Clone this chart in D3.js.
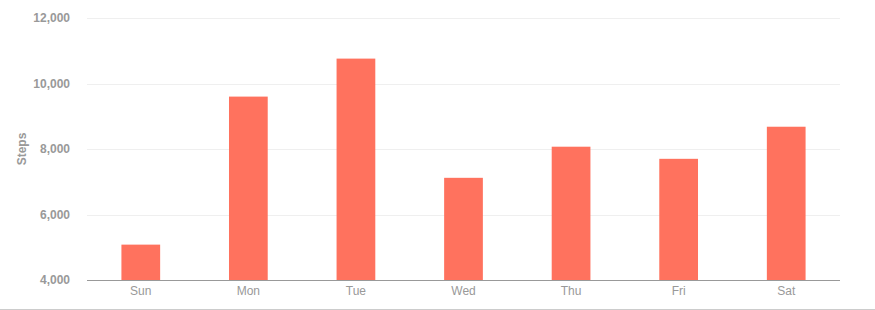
<!DOCTYPE html>
<html>
<head>
<meta charset="utf-8">
<script src="https://cdn.jsdelivr.net/npm/d3@7"></script>
<style>
  body { margin: 0; background: #fff; font-family: Arial, "Liberation Sans", sans-serif; }
  svg { display: block; }
</style>
</head>
<body>
<svg id="chart" width="875" height="310"></svg>
<script>
var days = ['Sun', 'Mon', 'Tue', 'Wed', 'Thu', 'Fri', 'Sat'];
var steps = [5080, 9600, 10760, 7120, 8070, 7700, 8680];
var yTicks = [4000, 6000, 8000, 10000, 12000];

var svg = d3.select('#chart');
// plot edges (note: "top" is taken by window.top, so use plot* names)
var plotLeft = 87, plotRight = 840, plotTop = 18, plotBottom = 280;

var x = d3.scaleBand()
  .domain(days)
  .range([plotLeft, plotRight])
  .paddingInner(0.64)
  .paddingOuter(0.32);

var y = d3.scaleLinear()
  .domain([4000, 12000])
  .range([plotBottom, plotTop]);

// gridlines
svg.append('g')
  .selectAll('line')
  .data(yTicks.slice(1))
  .enter().append('line')
  .attr('x1', plotLeft)
  .attr('x2', plotRight)
  .attr('y1', function (d) { return Math.round(y(d)) + 0.5; })
  .attr('y2', function (d) { return Math.round(y(d)) + 0.5; })
  .style('stroke', '#efefef')
  .style('stroke-width', 1);

// y labels
svg.append('g')
  .selectAll('text')
  .data(yTicks)
  .enter().append('text')
  .attr('x', 70)
  .attr('y', function (d) { return y(d) + 4; })
  .attr('text-anchor', 'end')
  .style('font-size', '12px')
  .style('font-weight', 'bold')
  .style('fill', '#999')
  .text(d3.format(','));

// bars
svg.append('g')
  .selectAll('rect')
  .data(steps)
  .enter().append('rect')
  .attr('x', function (d, i) { return x(days[i]); })
  .attr('width', x.bandwidth())
  .attr('y', function (d) { return y(d); })
  .attr('height', function (d) { return y(4000) - y(d); })
  .style('fill', '#ff725e');

// x axis line
svg.append('line')
  .attr('x1', plotLeft)
  .attr('x2', plotRight)
  .attr('y1', plotBottom + 0.5)
  .attr('y2', plotBottom + 0.5)
  .style('stroke', '#999')
  .style('stroke-width', 1);

// x labels
svg.append('g')
  .selectAll('text')
  .data(days)
  .enter().append('text')
  .attr('x', function (d) { return x(d) + x.bandwidth() / 2; })
  .attr('y', 295)
  .attr('text-anchor', 'middle')
  .style('font-size', '12px')
  .style('fill', '#999')
  .text(function (d) { return d; });

// axis title
svg.append('text')
  .attr('transform', 'translate(22,' + ((plotTop + plotBottom) / 2) + ') rotate(-90)')
  .attr('text-anchor', 'middle')
  .attr('dy', '0.35em')
  .style('font-size', '12px')
  .style('font-weight', 'bold')
  .style('fill', '#999')
  .text('Steps');

// bottom border
svg.append('line')
  .attr('x1', 0)
  .attr('x2', 875)
  .attr('y1', 309.5)
  .attr('y2', 309.5)
  .style('stroke', '#ccc')
  .style('stroke-width', 1);
</script>
</body>
</html>
